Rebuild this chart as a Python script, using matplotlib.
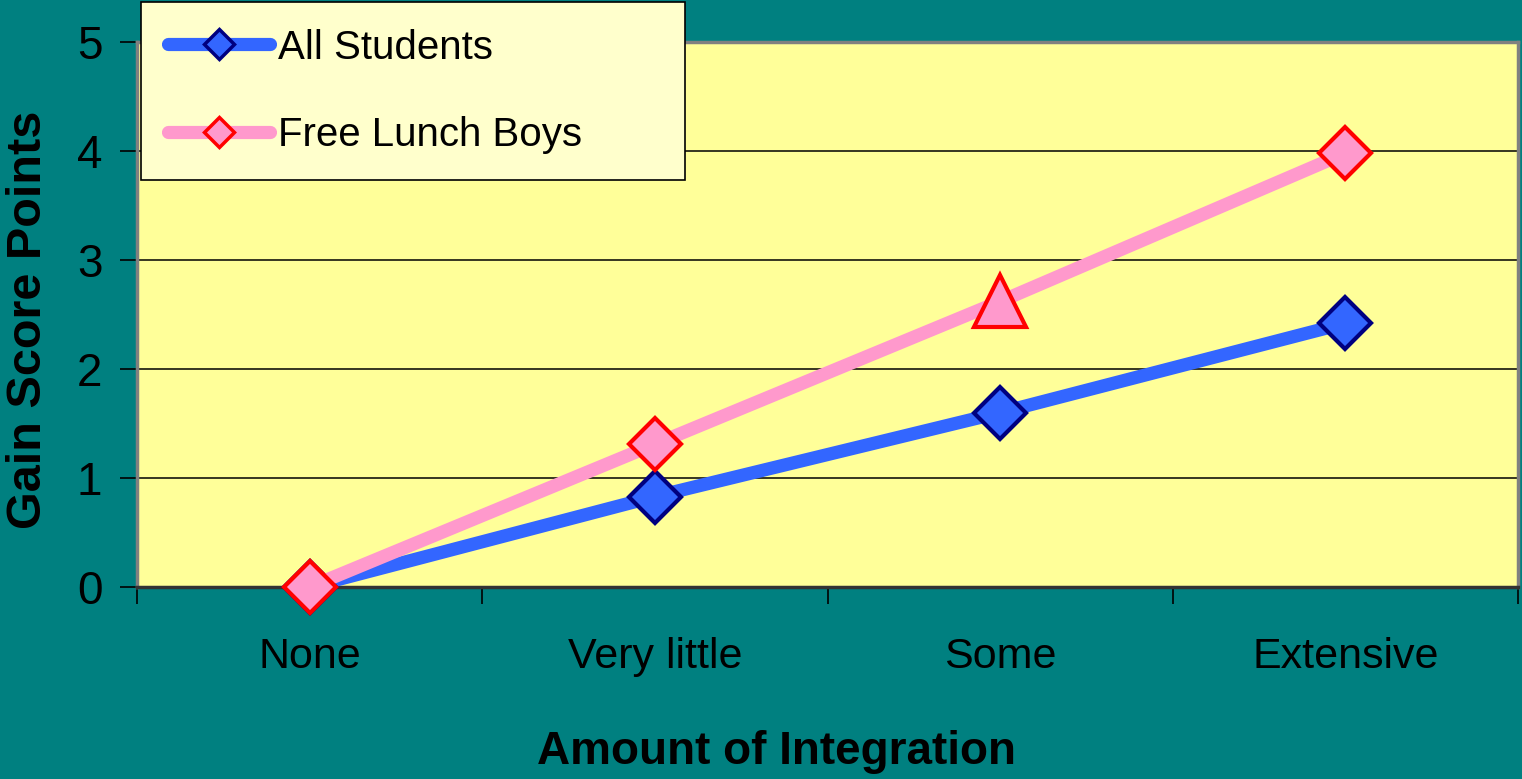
import numpy as np
import matplotlib
matplotlib.use('Agg')
import matplotlib.pyplot as plt
from matplotlib.lines import Line2D

categories = ['None', 'Very little', 'Some', 'Extensive']
all_students = [0.0, 0.83, 1.60, 2.42]
free_lunch_boys = [0.0, 1.31, 2.62, 3.98]
series_names = ['All Students', 'Free Lunch Boys']
y_ticks = [0, 1, 2, 3, 4, 5]

plt.rcParams['font.family'] = ['Liberation Sans', 'DejaVu Sans']

teal = '#008080'
blue = '#3366FF'
navy = '#000080'
pink = '#FF99CC'
red = '#FF0000'

fig = plt.figure(figsize=(15.22, 7.79), dpi=100, facecolor=teal)
ax = fig.add_axes([137/1522, 1-587/779, 1381/1522, 545/779])
ax.set_facecolor('#FFFF99')

x = np.arange(len(categories))

# lines
ax.plot(x, all_students, color=blue, linewidth=9.5, marker='D', markersize=26,
        markerfacecolor=blue, markeredgecolor=navy, markeredgewidth=3,
        solid_capstyle='butt', zorder=3, clip_on=False)
# free lunch boys: diamonds except the "Some" point which is a triangle
diamond_idx = [0, 1, 3]
ax.plot(x, free_lunch_boys, color=pink, linewidth=9.5, marker='D', markersize=26,
        markevery=diamond_idx, markerfacecolor=pink, markeredgecolor=red,
        markeredgewidth=3, solid_capstyle='butt', zorder=4, clip_on=False)
ax.plot(x[2], free_lunch_boys[2], linestyle='none', marker='^', markersize=37,
        markerfacecolor=pink, markeredgecolor=red, markeredgewidth=3,
        zorder=5, clip_on=False)

# axes
ax.set_xlim(-0.5, len(categories) - 0.5)
ax.set_ylim(0, 5)
ax.set_yticks(y_ticks)
ax.set_yticklabels([str(t) for t in y_ticks], fontsize=33)
ax.set_xticks(x)
ax.set_xticklabels(categories, fontsize=31)
ax.set_xticks(np.arange(-0.5, len(categories)), minor=True)
ax.tick_params(axis='x', which='major', length=0, pad=36)
ax.tick_params(axis='x', which='minor', length=12, width=1.2, color='black', direction='out')
ax.tick_params(axis='y', which='major', length=12, width=1.2, color='black', direction='out', pad=13)

ax.yaxis.grid(True, color='black', linewidth=1.1)
ax.set_axisbelow(True)

for side in ['left', 'top', 'right']:
    ax.spines[side].set_color('#808080')
    ax.spines[side].set_linewidth(2.5)
ax.spines['bottom'].set_color('#333333')
ax.spines['bottom'].set_linewidth(2.5)

ax.set_xlabel('Amount of Integration', fontsize=33, fontweight='bold')
ax.xaxis.set_label_coords((776-137)/1381, -(752-587)/545)
ax.xaxis.label.set_va('center')
ax.set_ylabel('Gain Score Points', fontsize=35, fontweight='bold')
ax.yaxis.set_label_coords((29-137)/1381, (587-320)/545)
ax.yaxis.label.set_va('center')

# legend
handles = [
    Line2D([], [], color=blue, linewidth=9.5, marker='D', markersize=15,
           markerfacecolor=blue, markeredgecolor=navy, markeredgewidth=2.5,
           solid_capstyle='round'),
    Line2D([], [], color=pink, linewidth=9.5, marker='D', markersize=15,
           markerfacecolor=pink, markeredgecolor=red, markeredgewidth=2.5,
           solid_capstyle='round'),
]
leg = fig.legend(handles, series_names, loc='upper left',
                 bbox_to_anchor=(141/1522, 1-180/779, (685-141)/1522, 178/779),
                 mode='expand', borderaxespad=0, fontsize=29, fancybox=False,
                 framealpha=1, facecolor='#FFFFCC', edgecolor='black',
                 handlelength=2.55, handletextpad=0.2, labelspacing=1.22,
                 borderpad=0.66)
leg.get_frame().set_linewidth(1.2)

fig.savefig('out.png', dpi=100, facecolor=teal)
